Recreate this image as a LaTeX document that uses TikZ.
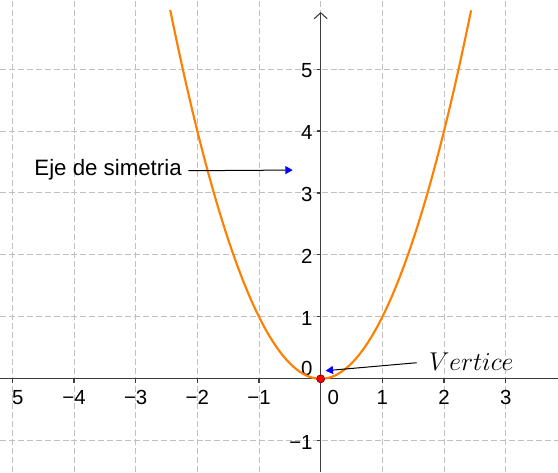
\RequirePackage{fix-cm}
\documentclass[tikz,border=0pt]{standalone}
\usepackage{fontspec}
\newfontfamily\arial{Liberation Sans}
\usetikzlibrary{arrows.meta}
\definecolor{gridc}{RGB}{192,192,192}
\definecolor{curvec}{RGB}{255,127,0}
\definecolor{axc}{RGB}{60,60,60}
\begin{document}
\begin{tikzpicture}[x=46.25pt,y=46.46pt,
  gridline/.style={gridc, line width=0.75pt, dash pattern=on 4.5pt off 2.2pt},
  axisline/.style={axc, line width=0.8pt},
  tickmark/.style={axc, line width=0.8pt},
  ticklab/.style={font=\arial\fontsize{15.3}{15.3}\selectfont, inner sep=0pt, text=black},
  callout/.style={black, line width=0.75pt, -{Triangle[length=5.5pt,width=6pt,blue]}},
  vertexpt/.style={circle, fill=red, draw=black!55!red, line width=0.5pt, minimum size=6pt, inner sep=0pt}]
\useasboundingbox (-5.2,-1.504) rectangle (3.848,6.115);
\clip (-5.2,-1.504) rectangle (3.848,6.115);
\fill[white] (-5.2,-1.504) rectangle (3.848,6.115);
% grid
\foreach \x in {-5,...,3} \draw[gridline] (\x,-1.504) -- (\x,6.115);
\foreach \y in {-1,...,5} \draw[gridline] (-5.2,\y) -- (3.848,\y);
% axes
\draw[axisline] (-5.2,0) -- (3.848,0);
\draw[axisline, -{Straight Barb[length=4.5pt,width=9.75pt]}] (0,-1.504) -- (0,5.921);
\foreach \x in {-5,-4,-3,-2,-1,1,2,3} \draw[tickmark] (\x,0) -- (\x,-0.065);
\foreach \y in {-1,1,2,3,4,5} \draw[tickmark] (0,\y) -- (-0.065,\y);
% tick labels
\node[ticklab, anchor=base] (xl5) at (-4.913,-0.407) {5};
\foreach \x/\t in {-4/−4,-3/−3,-2/−2,-1/−1,1/1,2/2,3/3}
  \node[ticklab, anchor=base] (xl\x) at (\x,-0.407) {\t};
\node[ticklab, anchor=base] (xl0) at (0.205,-0.407) {0};
\foreach \y/\t in {-1/−1,1/1,2/2,3/3,4/4,5/5}
  \node[ticklab, anchor=base east] (yl\y) at (-0.128,\y-0.137) {\t};
\node[ticklab, anchor=base east] (yl0) at (-0.128,0.061) {0};
% parabola
\draw[curvec, line width=1.6pt] plot[domain=-2.44:2.44, samples=120] (\x,{\x*\x});
% vertex
\node[vertexpt] (V) at (0,0) {};
% callouts
\node[font=\arial\fontsize{16.7}{16.7}\selectfont, inner sep=0pt, anchor=base east] (eje) at (-2.249,3.278) {Eje de simetria};
\coordinate (ejeS) at (-2.147,3.359);
\coordinate (ejeT) at (-0.454,3.370);
\draw[callout] (ejeS) -- (ejeT);
\node[inner sep=0pt, anchor=base west] (vert) at (1.755,0.142) {\fontsize{19.3}{20}\selectfont$Vertice$};
\coordinate (vertS) at (1.557,0.260);
\coordinate (vertT) at (0.081,0.131);
\draw[callout] (vertS) -- (vertT);
\end{tikzpicture}
\end{document}
